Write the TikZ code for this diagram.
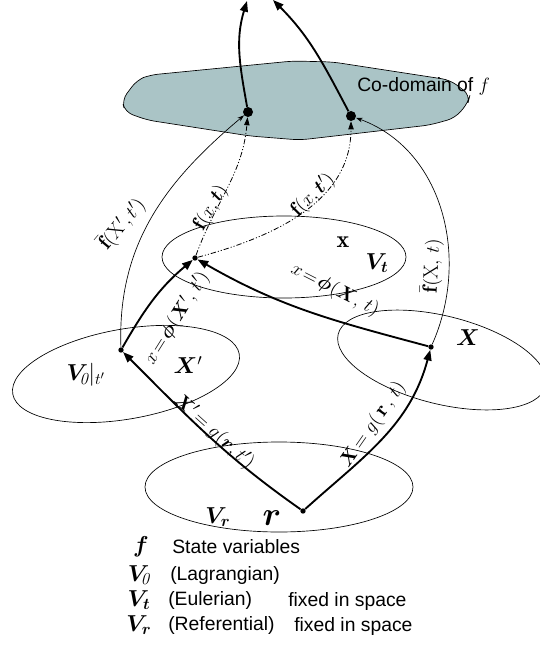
\documentclass[tikz,border=0pt]{standalone}
\usepackage{amsmath}
\usepackage{bm}
\usepackage{fontspec}
\newfontfamily\arialfont{Liberation Sans}
\usetikzlibrary{arrows.meta}
\definecolor{codomfill}{RGB}{170,196,198}

\begin{document}
\begin{tikzpicture}[x=0.75pt, y=-0.75pt,
      pt/.style={circle, fill=black, inner sep=0pt, minimum size=4pt},
      bigpt/.style={circle, fill=black, inner sep=0pt, minimum size=7.5pt},
      region/.style={draw=black, line width=0.5pt},
      mapto/.style={line width=1.4pt, -{Triangle[length=8pt,width=6pt]}},
      valto/.style={line width=0.5pt, -{Stealth[length=5pt,width=3.5pt]}},
      fieldto/.style={line width=0.6pt,
                  dash pattern=on 4pt off 1.5pt on 0.8pt off 1.5pt on 0.8pt off 1.5pt,
                  -{Triangle[length=6pt,width=4pt]}},
      lbl/.style={font=\fontsize{15.5}{17}\selectfont, inner sep=1pt},
      vlbl/.style={font=\fontsize{18}{20}\selectfont, inner sep=1pt},
      txt/.style={font=\arialfont\fontsize{14.5}{16}\selectfont, anchor=west, inner sep=0pt},
    ]
    \useasboundingbox (0,0) rectangle (539,648);
    %% co-domain
    \draw[region, fill=codomfill, rounded corners=6pt]
      (122,100) -- (137,80) -- (150,75) -- (293,61) -- (333,62) -- (450,80)
      -- (470,95) -- (468,103) -- (455,118) -- (430,125) -- (300,140)
      -- (250,136) -- (147,120) -- (125,112) -- cycle;
    \node[txt] (cod) at (357,86) {Co-domain of $f$};
    %% the four regions
    \draw[region] (284,257) ellipse [x radius=122, y radius=41];
    \draw[region, rotate around={10:(126,374)}] (126,374) ellipse [x radius=115, y radius=45];
    \draw[region, rotate around={-14:(442,360)}] (442,360) ellipse [x radius=107, y radius=44];
    \draw[region] (279,487) ellipse [x radius=134, y radius=45];
    %% points
    \node[pt] (r) at (303,511) {};
    \node[pt] (Xp) at (121,350) {};
    \node[pt] (X) at (431,347) {};
    \node[pt] (x) at (195,258) {};
    \node[bigpt] (fa) at (248,112) {};
    \node[bigpt] (fb) at (351,116) {};
    \coordinate (upa) at (247,1);
    \coordinate (upb) at (273,0);
    %% maps
    \draw[mapto] (r) to[out=145, in=-45] (Xp);
    \draw[mapto] (r) to[out=42, in=-105] (X);
    \draw[mapto] (Xp) to[out=60, in=-140] (x);
    \draw[mapto] (X) to[out=165, in=-30] (x);
    \draw[mapto] (fa) to[out=100, in=-107] (upa);
    \draw[mapto] (fb) to[out=118, in=-45] (upb);
    %% values
    \draw[fieldto] (x) to[out=70, in=-95] (fa);
    \draw[fieldto] (x) to[out=15, in=-90] (fb);
    \draw[valto] (Xp) to[out=92, in=-140] (fa);
    \draw[valto] (X) to[out=66, in=-20] (fb);
    %% labels on the maps
    \node[lbl, rotate=-42] (gp) at (214,432) {$\bm{X}'\!=g(\bm{r},t')$};
    \node[lbl, rotate=55] (g) at (373,425) {$\bm{X}\!=g(\,\mathbf{r}\,,\,t)$};
    \node[lbl, rotate=58] (phip) at (177,318) {$x\!=\!\bm{\phi}(\bm{X}',\,t')$};
    \node[lbl, rotate=-27] (phi) at (335,290) {$x\!=\!\bm{\phi}(\bm{X},\,t)$};
    \node[lbl, rotate=60] (fxt) at (211,208) {$\mathbf{f}(x,\bm{t})$};
    \node[lbl, rotate=45] (fxtp) at (313,195) {$\mathbf{f}(x,\bm{t}')$};
    \node[lbl, rotate=50] (fbp) at (122,224) {$\bar{\mathbf{f}}(\mathrm{X}',t')$};
    \node[lbl, rotate=87] (fb0) at (432,266) {$\bar{\mathbf{f}}(\mathrm{X},\,t)$};
    %% region labels
    \node[vlbl] (vr) at (218,517) {$\bm{V_r}$};
    \node[font=\fontsize{25}{27}\selectfont] (rr) at (272,518) {$\bm{r}$};
    \node[vlbl] (v0) at (86,375) {$\bm{V}_{\!\mathit{0}}|_{t'}$};
    \node[vlbl] (xp) at (188,365) {$\bm{X}'$};
    \node[vlbl] (xx) at (343,242) {$\mathbf{x}$};
    \node[vlbl] (vt) at (377,263) {$\bm{V_t}$};
    \node[vlbl] (xr) at (468,338) {$\bm{X}$};
    %% legend
    \node[vlbl] (kf) at (141,547) {$\bm{f}$};
    \node[vlbl] (k0) at (139,575) {$\bm{V}_{\!\mathit{0}}$};
    \node[vlbl] (kt) at (139,600) {$\bm{V_t}$};
    \node[vlbl] (kr) at (139,625) {$\bm{V_r}$};
    \node[txt] (tf) at (172,547) {State variables};
    \node[txt] (t0) at (170,575) {(Lagrangian)};
    \node[txt] (tt) at (168,600) {(Eulerian)};
    \node[txt] (tr) at (168,625) {(Referential)};
    \node[txt] (st) at (288,601) {fixed in space};
    \node[txt] (sr) at (294,626) {fixed in space};
\end{tikzpicture}
\end{document}
